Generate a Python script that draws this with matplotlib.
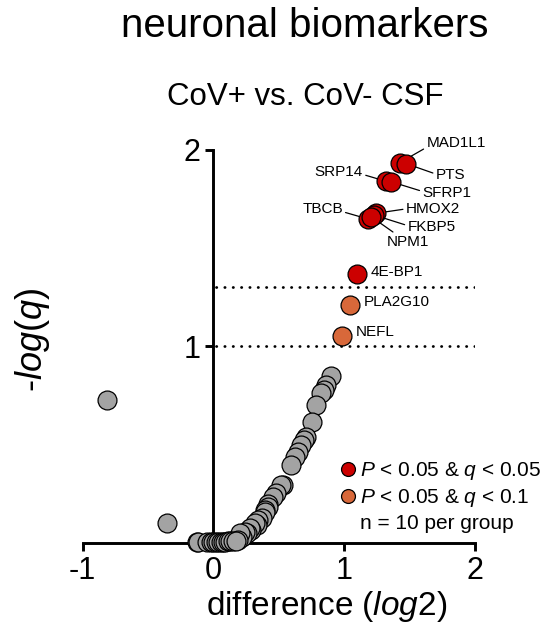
import numpy as np
import matplotlib
matplotlib.use('Agg')
import matplotlib.pyplot as plt
from matplotlib.lines import Line2D

plt.rcParams['font.family'] = ['Liberation Sans', 'DejaVu Sans']
plt.rcParams['mathtext.fontset'] = 'custom'
plt.rcParams['mathtext.rm'] = 'Liberation Sans'
plt.rcParams['mathtext.it'] = 'Liberation Sans:italic'

# significant proteins (q < 0.05)
red_names = ['MAD1L1', 'PTS', 'SRP14', 'SFRP1', 'TBCB', 'HMOX2', 'FKBP5', 'NPM1', '4E-BP1']
red_x = [1.424, 1.475, 1.322, 1.36, 1.18, 1.246, 1.228, 1.207, 1.10]
red_y = [1.935, 1.93, 1.84, 1.838, 1.649, 1.678, 1.669, 1.66, 1.369]

# q < 0.1
orange_names = ['PLA2G10', 'NEFL']
orange_x = [1.042, 0.983]
orange_y = [1.211, 1.053]

# not significant
gray_x = [-0.815, -0.357,
          0.902, 0.864, 0.844, 0.826, 0.788, 0.75, 0.711, 0.69, 0.673, 0.648,
          0.622, 0.592, 0.533, 0.52, 0.482, 0.457, 0.418, 0.418, 0.393, 0.393,
          0.368, 0.342, 0.33, 0.317, 0.29, 0.279, 0.253, 0.24, 0.215, 0.202, 0.189,
          -0.128, -0.116, -0.052, -0.02, 0.0, 0.02, 0.037, 0.055, 0.075, 0.09,
          0.113, 0.13, 0.151, 0.17]
gray_y = [0.728, 0.10,
          0.85, 0.804, 0.779, 0.765, 0.702, 0.617, 0.541, 0.524, 0.499, 0.465,
          0.439, 0.397, 0.295, 0.295, 0.253, 0.236, 0.20, 0.185, 0.168, 0.159,
          0.126, 0.117, 0.092, 0.10, 0.066, 0.075, 0.049, 0.058, 0.032, 0.049, 0.015,
          0.007, 0.007, 0.007, 0.005, 0.005, 0.005, 0.006, 0.006, 0.006, 0.007,
          0.008, 0.008, 0.01, 0.012]

q_lines = [-np.log10(0.05), -np.log10(0.1)]

RED = '#cc0000'
ORANGE = '#d8683a'
GRAY = '#a3a3a3'

fig = plt.figure(figsize=(5.49, 6.33), dpi=100)
ax = fig.add_axes([0.1506, 0.1422, 0.7146, 0.6209])

for q in q_lines:
    ax.plot([0.02, 2], [q, q], color='black', lw=2.0, linestyle=(0, (0.1, 2.9)),
            dash_capstyle='round', zorder=1)

ax.scatter(gray_x, gray_y, s=185, c=GRAY, edgecolors='black', linewidths=0.9,
           zorder=3, clip_on=False)
ax.scatter(red_x, red_y, s=185, c=RED, edgecolors='black', linewidths=0.9,
           zorder=3, clip_on=False)
ax.scatter(orange_x, orange_y, s=185, c=ORANGE, edgecolors='black', linewidths=0.9,
           zorder=3, clip_on=False)

# label offsets in points: dx, dy, ha, relpos, leader line
lab_style = {
    'MAD1L1': (19.2, 14.0, 'left', (0, 0.2), True),
    'PTS': (21.1, -8.4, 'left', (0, 0.6), True),
    'SRP14': (-16.8, 7.0, 'right', (1, 0.3), True),
    'SFRP1': (22.3, -7.9, 'left', (0, 0.6), True),
    'TBCB': (-18.0, 7.2, 'right', (1, 0.3), True),
    'HMOX2': (21.1, 3.1, 'left', (0, 0.5), True),
    'FKBP5': (24.0, -8.6, 'left', (0, 0.6), True),
    'NPM1': (10.8, -18.0, 'left', (0.25, 1.0), True),
    '4E-BP1': (9.4, 1.4, 'left', (0, 0.5), False),
    'PLA2G10': (10.3, 2.2, 'left', (0, 0.5), False),
    'NEFL': (9.9, 2.9, 'left', (0, 0.5), False),
}
for name, x, y in zip(red_names + orange_names, red_x + orange_x, red_y + orange_y):
    dx, dy, ha, rp, line = lab_style[name]
    ap = dict(arrowstyle='-', color='black', lw=0.9, relpos=rp,
              shrinkA=0, shrinkB=0) if line else None
    ax.annotate(name, xy=(x, y), xytext=(dx, dy), textcoords='offset points',
                ha=ha, va='center', fontsize=11, arrowprops=ap, zorder=2)

ax.set_xlim(-1, 2)
ax.set_ylim(0, 2)
ax.spines['top'].set_visible(False)
ax.spines['right'].set_visible(False)
ax.spines['left'].set_position(('data', 0))
ax.spines['left'].set_bounds(0, 2)
for s in ['left', 'bottom']:
    ax.spines[s].set_linewidth(2.1)
ax.set_xticks([-1, 0, 1, 2])
ax.set_xticklabels(['-1', '0', '1', '2'])
ax.set_yticks([1, 2])
ax.tick_params(width=2.1, length=5.5, labelsize=22, pad=4)

handles = [Line2D([], [], marker='o', ls='', ms=10, mfc=RED, mec='black', mew=0.9),
           Line2D([], [], marker='o', ls='', ms=10, mfc=ORANGE, mec='black', mew=0.9),
           Line2D([], [], ls='')]
labels = [r'$P$ < 0.05 & $q$ < 0.05', r'$P$ < 0.05 & $q$ < 0.1', 'n = 10 per group']
ax.legend(handles, labels, loc='center left', bbox_to_anchor=(0.62, 0.118),
          frameon=False, fontsize=15, handletextpad=0.05, handlelength=1.1,
          labelspacing=0.25, borderpad=0)

fig.text(305 / 549, 1 - 37.3 / 633, 'neuronal biomarkers', ha='center', va='baseline', fontsize=29)
fig.text(305 / 549, 1 - 105 / 633, 'CoV+ vs. CoV- CSF', ha='center', va='baseline', fontsize=22.5)
fig.text(327 / 549, 1 - 607 / 633, r'difference ($log2$)', ha='center', va='center', fontsize=24)
fig.text(32 / 549, 1 - 340 / 633, r'-$log(q)$', ha='center', va='center', fontsize=26,
         rotation=90)

fig.savefig('out.png', dpi=100)
